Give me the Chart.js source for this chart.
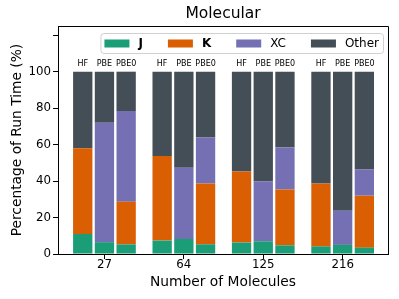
<!DOCTYPE html>
<html>
<head>
<meta charset="utf-8">
<script src="https://cdn.jsdelivr.net/npm/chart.js@4/dist/chart.umd.min.js"></script>
<style>
  html, body { margin: 0; padding: 0; background: #fff; }
</style>
</head>
<body>
<canvas id="chart1" width="399" height="299"></canvas>
<script>
// categories
const groups = ['27', '64', '125', '216'];
const methods = ['HF', 'PBE', 'PBE0'];
const parts = ['J', 'K', 'XC', 'Other'];
const partColors = ['#1b9e77', '#d95f02', '#7570b3', '#434e57'];

// y ticks shown (120 gets a tick mark but no label)
const yTicks = [0, 20, 40, 60, 80, 100, 120];

// percentage of run time, per method and part
const jHF = [11.0, 7.4, 6.3, 4.2];
const kHF = [47.0, 46.4, 39.0, 34.5];
const xcHF = [0, 0, 0, 0];
const otherHF = [42.0, 46.2, 54.7, 61.3];

const jPBE = [6.5, 8.3, 7.0, 5.0];
const kPBE = [0, 0, 0, 0];
const xcPBE = [65.5, 39.0, 32.8, 18.8];
const otherPBE = [28.0, 52.7, 60.2, 76.2];

const jPBE0 = [5.3, 5.3, 4.8, 3.5];
const kPBE0 = [23.4, 33.4, 30.6, 28.5];
const xcPBE0 = [49.7, 25.2, 23.0, 14.4];
const otherPBE0 = [21.6, 36.1, 41.6, 53.6];

const table = {
  HF: [jHF, kHF, xcHF, otherHF],
  PBE: [jPBE, kPBE, xcPBE, otherPBE],
  PBE0: [jPBE0, kPBE0, xcPBE0, otherPBE0],
};

const FONT = '"DejaVu Sans", sans-serif';

const datasets = [];
methods.forEach((m) => {
  parts.forEach((p, pi) => {
    datasets.push({
      label: p,
      stack: m,
      data: table[m][pi].map((v, i) => ({ x: i, y: v })),
      backgroundColor: partColors[pi],
      borderWidth: 0,
    });
  });
});

// frame, method labels above bars and the legend box
const decor = {
  id: 'decor',
  afterDraw(chart) {
    const ctx = chart.ctx;
    const ca = chart.chartArea;
    const yScale = chart.scales.y;
    ctx.save();

    // top + right spines
    ctx.strokeStyle = '#000';
    ctx.lineWidth = 1;
    ctx.beginPath();
    ctx.moveTo(Math.round(ca.left) + 0.5, Math.round(ca.top) + 0.5);
    ctx.lineTo(Math.round(ca.right) + 0.5, Math.round(ca.top) + 0.5);
    ctx.lineTo(Math.round(ca.right) + 0.5, Math.round(ca.bottom));
    ctx.stroke();

    // HF / PBE / PBE0 over each bar
    ctx.fillStyle = '#000';
    ctx.font = '8px ' + FONT;
    ctx.textAlign = 'center';
    ctx.textBaseline = 'bottom';
    const yTop = yScale.getPixelForValue(100) - 4;
    methods.forEach((m, mi) => {
      const meta = chart.getDatasetMeta(mi * parts.length);
      meta.data.forEach((bar) => {
        ctx.fillText(m, bar.x, yTop);
      });
    });

    // legend
    const patchW = 25, patchH = 8, gap = 9, colGap = 25, padX = 4, boxH = 20;
    const fonts = parts.map((p, i) => (i < 2 ? 'bold ' : '') + '12px ' + FONT);
    const widths = parts.map((p, i) => {
      ctx.font = fonts[i];
      return ctx.measureText(p).width;
    });
    let total = padX * 2 + colGap * (parts.length - 1);
    widths.forEach((w) => { total += patchW + gap + w; });
    const right = Math.round(ca.right) - 5;
    const left = right - total;
    const top = Math.round(ca.top) + 7;

    ctx.beginPath();
    ctx.roundRect(left + 0.5, top + 0.5, total, boxH, 3);
    ctx.fillStyle = 'rgba(255,255,255,0.8)';
    ctx.fill();
    ctx.strokeStyle = '#d0d0d0';
    ctx.stroke();

    let x = left + padX;
    const cy = top + boxH / 2 + 0.5;
    ctx.textAlign = 'left';
    ctx.textBaseline = 'middle';
    parts.forEach((p, i) => {
      ctx.fillStyle = partColors[i];
      ctx.fillRect(x, cy - patchH / 2, patchW, patchH);
      x += patchW + gap;
      ctx.font = fonts[i];
      ctx.fillStyle = '#000';
      ctx.fillText(p, x, cy + 0.5);
      x += widths[i] + colGap;
    });

    ctx.restore();
  }
};

const config = {
  type: 'bar',
  data: { datasets: datasets },
  options: {
    responsive: false,
    animation: false,
    devicePixelRatio: 1,
    categoryPercentage: 0.82,
    barPercentage: 0.89,
    layout: {
      padding: { left: 7, right: 11, top: 0, bottom: 8.6 }
    },
    plugins: {
      legend: { display: false },
      tooltip: { enabled: false },
      title: {
        display: true,
        text: 'Molecular',
        fullSize: false,
        color: '#000',
        font: { size: 15.5, family: FONT, weight: 'normal' },
        padding: { top: 5, bottom: 2.5 }
      }
    },
    scales: {
      x: {
        type: 'linear',
        min: -0.584,
        max: 3.571,
        stacked: true,
        offset: false,
        afterBuildTicks: (scale) => {
          scale.ticks = groups.map((g, i) => ({ value: i }));
        },
        grid: {
          display: true,
          drawOnChartArea: false,
          drawTicks: true,
          tickLength: 5,
          color: '#000',
          offset: false
        },
        border: { display: true, color: '#000', width: 1 },
        ticks: {
          color: '#000',
          padding: 0,
          maxRotation: 0,
          font: { size: 11.8, family: FONT, lineHeight: 1 },
          callback: (v) => groups[v] ?? ''
        },
        title: {
          display: true,
          text: 'Number of Molecules',
          color: '#000',
          font: { size: 13.8, family: FONT },
          padding: { top: 3, bottom: 0 }
        }
      },
      y: {
        min: 0,
        max: 125,
        stacked: true,
        afterBuildTicks: (scale) => {
          scale.ticks = yTicks.map((v) => ({ value: v }));
        },
        grid: {
          display: true,
          drawOnChartArea: false,
          drawTicks: true,
          tickLength: 5,
          color: '#000'
        },
        border: { display: true, color: '#000', width: 1 },
        ticks: {
          color: '#000',
          padding: 2,
          font: { size: 11.8, family: FONT },
          callback: (v) => (v <= 100 ? v : '')
        },
        title: {
          display: true,
          text: 'Percentage of Run Time (%)',
          color: '#000',
          font: { size: 13.8, family: FONT },
          padding: { top: 2, bottom: 1 }
        }
      }
    }
  },
  plugins: [decor]
};

const myChart = new Chart(document.getElementById('chart1'), config);
</script>
</body>
</html>
